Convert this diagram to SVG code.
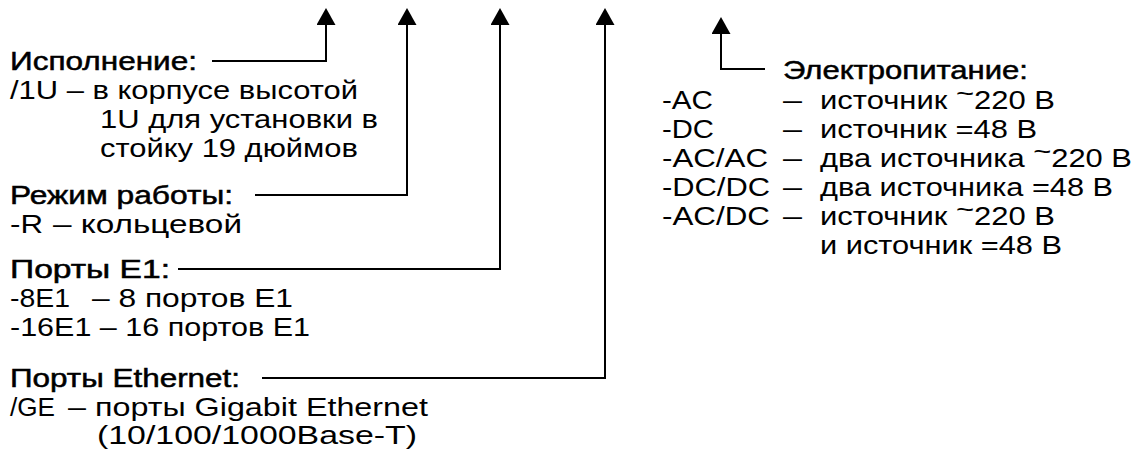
<svg xmlns="http://www.w3.org/2000/svg" width="1139" height="452" viewBox="0 0 1139 452">
  <style>
    text { font-family: "Liberation Sans", Arial, sans-serif; font-size: 25px; fill: #000; }
    .h { stroke: #000; stroke-width: 0.5; }
    .c { fill: none; stroke: #000; stroke-width: 2; }
  </style>
  <defs>
    <marker id="ah" markerUnits="userSpaceOnUse" markerWidth="18" markerHeight="20" refX="0" refY="9.5" orient="auto">
      <path d="M0,0 L17,9.5 L0,19 z" fill="#000"/>
    </marker>
  </defs>
  <rect width="1139" height="452" fill="#fff"/>

  <g id="connectors">
    <path class="c" d="M212,61 H326 V25" marker-end="url(#ah)"/>
    <path class="c" d="M255,195 H407 V25" marker-end="url(#ah)"/>
    <path class="c" d="M178,269 H500 V25" marker-end="url(#ah)"/>
    <path class="c" d="M262,378 H605 V25" marker-end="url(#ah)"/>
    <path class="c" d="M765,69 H721 V34" marker-end="url(#ah)"/>
  </g>

  <g id="ispolnenie">
    <text class="h" x="10" y="70" textLength="187" lengthAdjust="spacingAndGlyphs">Исполнение:</text>
    <text x="10" y="99" textLength="348" lengthAdjust="spacingAndGlyphs">/1U – в корпусе высотой</text>
    <text x="100" y="128" textLength="278" lengthAdjust="spacingAndGlyphs">1U для установки в</text>
    <text x="100" y="157" textLength="258" lengthAdjust="spacingAndGlyphs">стойку 19 дюймов</text>
  </g>

  <g id="rezhim">
    <text class="h" x="10" y="204" textLength="223" lengthAdjust="spacingAndGlyphs">Режим работы:</text>
    <text x="10" y="233" textLength="33" lengthAdjust="spacingAndGlyphs">-R</text>
    <text x="53" y="233" textLength="189" lengthAdjust="spacingAndGlyphs">– кольцевой</text>
  </g>

  <g id="porty-e1">
    <text class="h" x="10" y="278" textLength="160" lengthAdjust="spacingAndGlyphs">Порты E1:</text>
    <text x="10" y="307" textLength="60" lengthAdjust="spacingAndGlyphs">-8E1</text>
    <text x="92" y="307" textLength="201" lengthAdjust="spacingAndGlyphs">– 8 портов E1</text>
    <text x="10" y="336" textLength="300" lengthAdjust="spacingAndGlyphs">-16E1 – 16 портов E1</text>
  </g>

  <g id="porty-ethernet">
    <text class="h" x="10" y="387" textLength="230" lengthAdjust="spacingAndGlyphs">Порты Ethernet:</text>
    <text x="10" y="416" textLength="45" lengthAdjust="spacingAndGlyphs">/GE</text>
    <text x="68" y="416" textLength="360" lengthAdjust="spacingAndGlyphs">– порты Gigabit Ethernet</text>
    <text x="97" y="444" textLength="320" lengthAdjust="spacingAndGlyphs">(10/100/1000Base-T)</text>
  </g>

  <g id="elektropitanie">
    <text class="h" x="783" y="79" textLength="245" lengthAdjust="spacingAndGlyphs">Электропитание:</text>
    <text x="662" y="109" textLength="51" lengthAdjust="spacingAndGlyphs">-AC</text>
    <text x="783" y="109" textLength="19" lengthAdjust="spacingAndGlyphs">–</text>
    <text x="820" y="109" textLength="235" lengthAdjust="spacingAndGlyphs">источник <tspan dy="-7">~</tspan><tspan dy="7">220 В</tspan></text>
    <text x="662" y="138" textLength="52" lengthAdjust="spacingAndGlyphs">-DC</text>
    <text x="783" y="138" textLength="19" lengthAdjust="spacingAndGlyphs">–</text>
    <text x="820" y="138" textLength="217" lengthAdjust="spacingAndGlyphs">источник =48 В</text>
    <text x="662" y="167" textLength="106" lengthAdjust="spacingAndGlyphs">-AC/AC</text>
    <text x="783" y="167" textLength="19" lengthAdjust="spacingAndGlyphs">–</text>
    <text x="820" y="167" textLength="312" lengthAdjust="spacingAndGlyphs">два источника <tspan dy="-7">~</tspan><tspan dy="7">220 В</tspan></text>
    <text x="662" y="196" textLength="108" lengthAdjust="spacingAndGlyphs">-DC/DC</text>
    <text x="783" y="196" textLength="19" lengthAdjust="spacingAndGlyphs">–</text>
    <text x="820" y="196" textLength="293" lengthAdjust="spacingAndGlyphs">два источника =48 В</text>
    <text x="662" y="225" textLength="108" lengthAdjust="spacingAndGlyphs">-AC/DC</text>
    <text x="783" y="225" textLength="19" lengthAdjust="spacingAndGlyphs">–</text>
    <text x="820" y="225" textLength="235" lengthAdjust="spacingAndGlyphs">источник <tspan dy="-7">~</tspan><tspan dy="7">220 В</tspan></text>
    <text x="820" y="254" textLength="242" lengthAdjust="spacingAndGlyphs">и источник =48 В</text>
  </g>
</svg>
